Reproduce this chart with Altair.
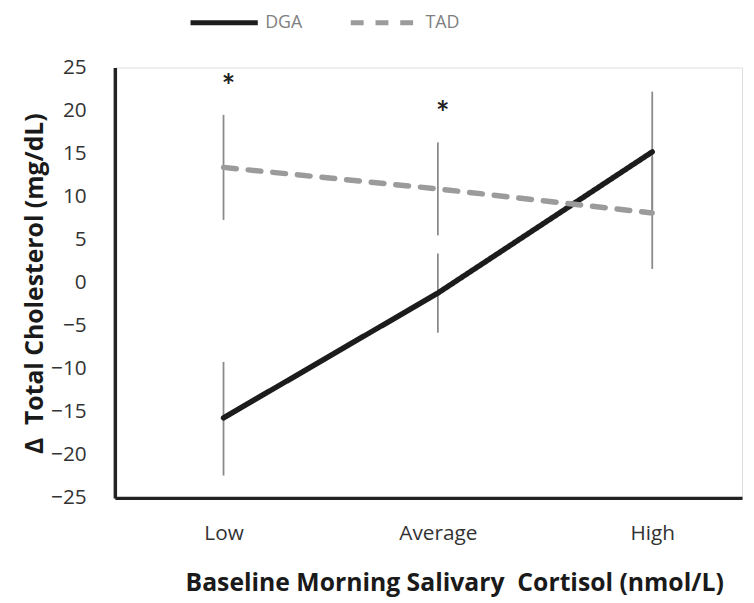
import json
import altair as alt
import pandas as pd

# ---- data ----
categories = ["Low", "Average", "High"]
positions = [0, 1, 2]
series_names = ["DGA", "TAD"]
dga_mean = [-15.7, -1.2, 15.2]
tad_mean = [13.4, 10.9, 8.1]
dga_lo = [-22.4, -5.8, 8.2]
dga_hi = [-9.2, 3.4, 22.2]
tad_lo = [7.3, 5.5, 1.6]
tad_hi = [19.5, 16.3, 14.6]
star_pos = [0, 1]
star_val = [22.6, 19.5]
star_text = ["*", "*"]
y_ticks = [-25, -20, -15, -10, -5, 0, 5, 10, 15, 20, 25]

rows = []
for name, m, lo, hi in [("DGA", dga_mean, dga_lo, dga_hi),
                        ("TAD", tad_mean, tad_lo, tad_hi)]:
    for c, p, mv, l, h in zip(categories, positions, m, lo, hi):
        rows.append(dict(series=name, cat=c, pos=p, mean=mv, lo=l, hi=h))
df = pd.DataFrame(rows)
stars = pd.DataFrame(dict(pos=star_pos, val=star_val, label=star_text))

W, H = 634, 435
FONT = "Open Sans"

x_scale = alt.Scale(domain=[-0.507, 2.419], nice=False, zero=False)
y_scale = alt.Scale(domain=[-25, 25], nice=False, zero=False)

x_axis = alt.Axis(
    values=positions,
    labelExpr=json.dumps(categories) + "[datum.value]",
    title="Baseline Morning Salivary\u00a0\u00a0Cortisol (nmol/L)",
    titleFont=FONT, titleFontSize=25, titleFontWeight="bold", titleColor="#1a1a1a",
    titleX=343, titleY=86, titleBaseline="middle", titleAnchor="middle",
    labelFont=FONT, labelFontSize=21, labelColor="#333333", labelPadding=25,
    labelOverlap=False, labelFlush=False,
    ticks=False, grid=False,
    domainColor="#222222", domainWidth=3.5,
)
y_axis = alt.Axis(
    values=y_ticks,
    title="Δ\u00a0\u00a0Total Cholesterol (mg/dL)",
    titleFont=FONT, titleFontSize=25, titleFontWeight="bold", titleColor="#1a1a1a",
    titleX=-81, titleY=218, titleAngle=270, titleBaseline="middle", titleAnchor="middle",
    labelFont=FONT, labelFontSize=21, labelColor="#333333", labelPadding=29,
    ticks=False, grid=False,
    domainColor="#222222", domainWidth=3.5,
)

color_scale = alt.Scale(domain=series_names, range=["#1c1c1c", "#9b9b9b"])
dash_scale = alt.Scale(domain=series_names, range=[[1, 0], [13, 12]])

legend = alt.Legend(
    orient="none", legendX=74, legendY=-82, direction="horizontal", title=None,
    symbolType="stroke", symbolSize=4624, symbolStrokeWidth=5,
    labelFont=FONT, labelFontSize=18, labelColor="#7f7f7f", labelOffset=5,
    columnPadding=38, padding=0,
)

base = alt.Chart(df)

err = base.mark_rule(color="#8a8a8a", strokeWidth=1.8).encode(
    x=alt.X("pos:Q", scale=x_scale, axis=x_axis),
    y=alt.Y("lo:Q", scale=y_scale, axis=y_axis),
    y2="hi:Q",
)

lines = base.mark_line(strokeWidth=5.5, strokeCap="round").encode(
    x=alt.X("pos:Q", scale=x_scale, axis=x_axis),
    y=alt.Y("mean:Q", scale=y_scale, axis=y_axis),
    color=alt.Color("series:N", scale=color_scale, legend=legend),
    strokeDash=alt.StrokeDash("series:N", scale=dash_scale, legend=legend),
    detail="series:N",
)

star_marks = alt.Chart(stars).mark_text(
    font="Lato", fontSize=32, fontWeight="bold", color="#222222",
    baseline="middle", align="center", dx=5,
).encode(
    x=alt.X("pos:Q", scale=x_scale, axis=x_axis),
    y=alt.Y("val:Q", scale=y_scale, axis=y_axis),
    text="label:N",
)

chart = alt.layer(err, lines, star_marks).properties(
    width=W, height=H,
    autosize=alt.AutoSizeParams(type="none"),
    padding={"left": 108, "top": 57, "right": 4, "bottom": 100},
).configure_view(stroke=None).configure(background="white")

chart.save("out.html", embed_options={"renderer": "svg", "actions": False})
